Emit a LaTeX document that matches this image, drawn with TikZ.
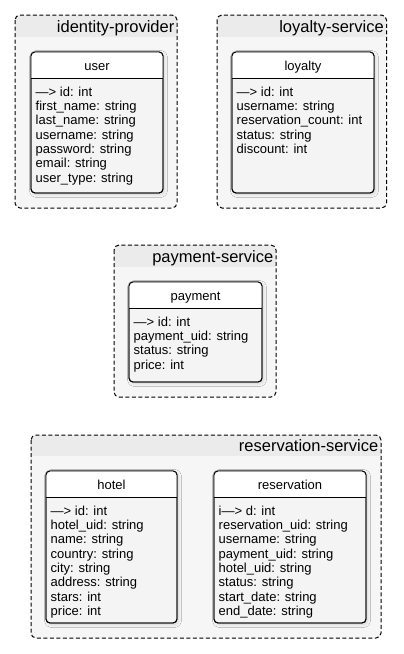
\documentclass[tikz,border=0pt]{standalone}
\usepackage{fontspec}
\setmainfont{Liberation Sans}
\usetikzlibrary{shadows.blur}
\definecolor{pkgfill}{HTML}{F6F6F6}
\definecolor{pkgband}{HTML}{EBEBEB}
\definecolor{classfill}{HTML}{F4F4F4}
\tikzset{
  pkgbox/.style={draw=none, rounded corners=5pt, fill=pkgfill, inner sep=0pt, outer sep=0pt},
  pkgborder/.style={draw=black, dash pattern=on 4pt off 2.5pt, line width=1pt, rounded corners=5pt},
  classbox/.style={draw=black, line width=0.9pt, rounded corners=4pt, fill=classfill, inner sep=0pt, outer sep=0pt,
    blur shadow={shadow xshift=1.5pt, shadow yshift=-1.5pt, shadow blur steps=8, shadow blur radius=3pt, shadow opacity=14}},
  classborder/.style={draw=black, line width=0.9pt, rounded corners=4pt},
  classline/.style={draw=black, line width=0.9pt},
  pkgtitle/.style={anchor=base east, inner sep=0pt, font=\fontsize{16.5}{18}\selectfont},
  classtitle/.style={anchor=base, inner sep=0pt, font=\fontsize{13}{15}\selectfont},
  attrs/.style={anchor=north west, inner sep=0pt, align=left, font=\fontsize{13}{14.35}\selectfont},
}
% #1 name, #2 left, #3 top, #4 right, #5 bottom, #6 title, #7 title baseline, #8 band height
\newcommand\mypkg[8]{%
  \node[pkgbox, minimum width={#4-#2}, minimum height={#5-#3}] (#1) at ({(#2+#4)/2},{(#3+#5)/2}) {};
  \begin{scope}
    \clip[rounded corners=5pt] (#1.north west) rectangle (#1.south east);
    \fill[pkgband] (#1.north west) rectangle ([yshift=-#8pt]#1.north east);
  \end{scope}
  \draw[pkgborder] (#1.north west) rectangle (#1.south east);
  \node[pkgtitle] (#1title) at ({#4-2.5},#7) {#6};
}
% #1 name, #2 left, #3 top, #4 right, #5 bottom, #6 title, #7 attributes
\newcommand\myclass[7]{%
  \node[classbox, minimum width={#4-#2}, minimum height={#5-#3}] (#1) at ({(#2+#4)/2},{(#3+#5)/2}) {};
  \begin{scope}
    \clip[rounded corners=4pt] (#1.north west) rectangle (#1.south east);
    \fill[white] (#1.north west) rectangle ([yshift=-26pt]#1.north east);
  \end{scope}
  \draw[classborder] (#1.north west) rectangle (#1.south east);
  \draw[classline] ([yshift=-26pt]#1.north west) -- ([yshift=-26pt]#1.north east);
  \node[classtitle] (#1title) at ({(#2+#4)/2},{#3+18}) {#6};
  \node[attrs] (#1attrs) at ({#2+4.5},{#3+44-10}) {\rule{0pt}{10pt}#7};
}
\begin{document}
\begin{tikzpicture}[x=1pt,y=-1pt]
\useasboundingbox (0,0) rectangle (404,654);
\fill[white] (0,0) rectangle (404,654);

\mypkg{idp}{15}{15}{177}{208}{identity-provider}{32}{22}
\myclass{user}{31}{52}{163}{193}{user}{—> id: int\\first\_name: string\\last\_name: string\\username: string\\password: string\\email: string\\user\_type: string}

\mypkg{loy}{217}{15}{386.5}{208}{loyalty-service}{32}{22}
\myclass{loyalty}{232}{52}{374}{193}{loyalty}{—> id: int\\username: string\\reservation\_count: int\\status: string\\discount: int}

\mypkg{pay}{114}{245}{276}{397}{payment-service}{262}{22}
\myclass{payment}{129}{282}{262}{382}{payment}{—> id: int\\payment\_uid: string\\status: string\\price: int}

\mypkg{res}{31}{435}{381}{638}{reservation-service}{451}{21}
\myclass{hotel}{46}{471}{177}{623}{hotel}{—> id: int\\hotel\_uid: string\\name: string\\country: string\\city: string\\address: string\\stars: int\\price: int}
\myclass{reservation}{214}{471}{366}{623}{reservation}{i—> d: int\\reservation\_uid: string\\username: string\\payment\_uid: string\\hotel\_uid: string\\status: string\\start\_date: string\\end\_date: string}
\end{tikzpicture}
\end{document}
